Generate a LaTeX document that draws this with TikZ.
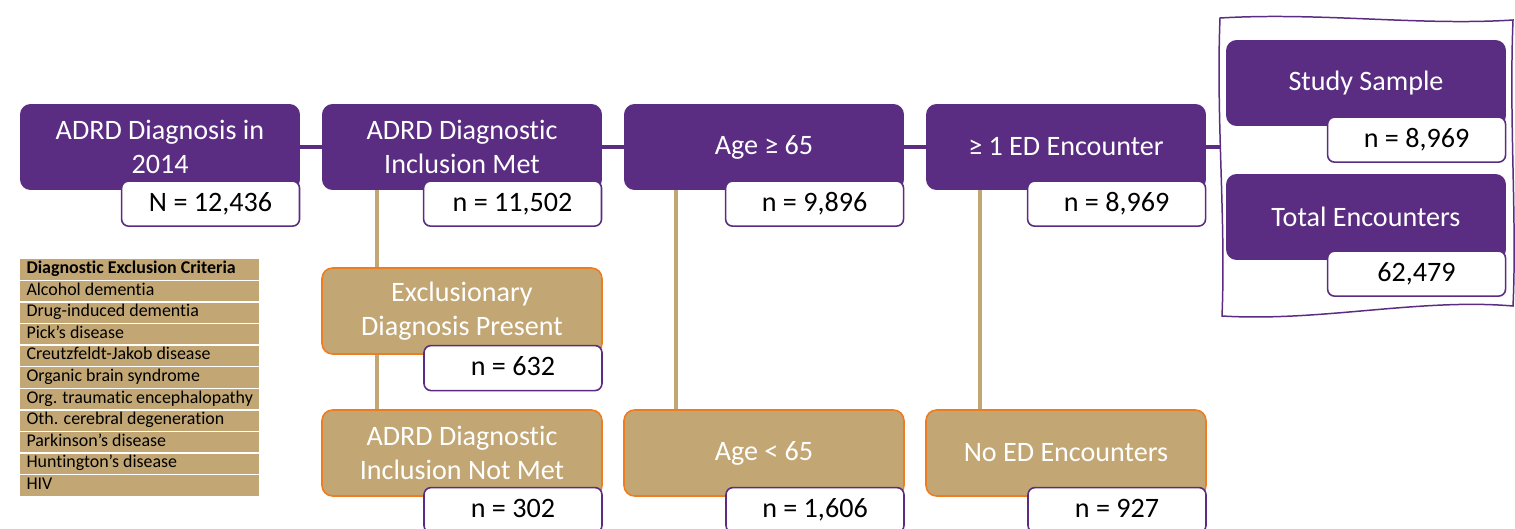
\documentclass[tikz,border=0pt]{standalone}
\usepackage[table]{xcolor}
\usepackage{fontspec}
\setmainfont{Carlito}[Ligatures=NoCommon]
\usepackage{tikz}
\usetikzlibrary{positioning,calc,backgrounds}
\definecolor{CohortPurple}{HTML}{5A2D82}
\definecolor{DropTan}{HTML}{C2A774}
\definecolor{DropOrange}{HTML}{EE7D22}

\tikzset{
  stagebox/.style={rectangle, rounded corners=6pt, fill=CohortPurple, text=white,
    minimum width=5.6cm, minimum height=1.72cm, inner sep=2pt, align=center,
    font=\fontsize{16}{19}\selectfont},
  dropbox/.style={stagebox, fill=DropTan, draw=DropOrange, line width=0.9pt},
  countbox/.style={rectangle, rounded corners=4pt, fill=white, draw=CohortPurple,
    line width=0.9pt, minimum width=3.56cm, minimum height=0.9cm, inner sep=1pt,
    text height=11pt, text depth=2.5pt,
    anchor=north east, font=\fontsize{16}{19}\selectfont},
  mainline/.style={draw=CohortPurple, line width=2.2pt},
  dropline/.style={draw=DropTan, line width=1.8pt},
}

\begin{document}
\begin{tikzpicture}[x=0.02cm, y=-0.02cm]
  \useasboundingbox (0,0) rectangle (1515,528);

  % cohort steps
  \node[stagebox] (diag) at (160,147) {ADRD Diagnosis in\\2014};
  \node[countbox] (diagN) at ([yshift=0.2cm]diag.south east) {N = 12,436};
  \node[stagebox] (incl) at (462,147) {ADRD Diagnostic\\Inclusion Met};
  \node[countbox] (inclN) at ([yshift=0.2cm]incl.south east) {n = 11,502};
  \node[stagebox] (age) at (764,147) {Age ≥ 65};
  \node[countbox] (ageN) at ([yshift=0.2cm]age.south east) {n = 9,896};
  \node[stagebox] (ed) at (1066,147) {≥ 1 ED Encounter};
  \node[countbox] (edN) at ([yshift=0.2cm]ed.south east) {n = 8,969};

  % excluded
  \node[dropbox] (excl) at (462,311) {Exclusionary\\Diagnosis Present};
  \node[countbox] (exclN) at ([yshift=0.2cm]excl.south east) {n = 632};
  \node[dropbox] (notmet) at (462,453) {ADRD Diagnostic\\Inclusion Not Met};
  \node[countbox] (notmetN) at ([yshift=0.2cm]notmet.south east) {n = 302};
  \node[dropbox] (young) at (764,453) {Age < 65};
  \node[countbox] (youngN) at ([yshift=0.2cm]young.south east) {n = 1,606};
  \node[dropbox] (noed) at (1066,453) {No ED Encounters};
  \node[countbox] (noedN) at ([yshift=0.2cm]noed.south east) {n = 927};

  % final sample
  \node[stagebox] (sample) at (1366,83) {Study Sample};
  \node[countbox] (sampleN) at ([yshift=0.2cm]sample.south east) {n = 8,969};
  \node[stagebox] (total) at (1366,217) {Total Encounters};
  \node[countbox] (totalN) at ([yshift=0.2cm]total.south east) {62,479};
  \draw[CohortPurple, line width=0.85pt]
    (1220,18) .. controls (1320,12) and (1420,26) .. (1513,20)
    .. controls (1509,120) and (1517,220) .. (1513,306)
    .. controls (1420,298) and (1320,322) .. (1222,316)
    .. controls (1226,220) and (1216,120) .. (1220,18) -- cycle;
  \coordinate (frameL) at (1220,147);

  \begin{scope}[on background layer]
    \draw[mainline] (diag.east) -- (incl.west);
    \draw[mainline] (incl.east) -- (age.west);
    \draw[mainline] (age.east) -- (ed.west);
    \draw[mainline] (ed.east) -- (frameL);
    \draw[dropline] ([xshift=-1.7cm]incl.south) -- ([xshift=-1.7cm]notmet.north);
    \draw[dropline] ([xshift=-1.76cm]age.south) -- ([xshift=-1.76cm]young.north);
    \draw[dropline] ([xshift=-1.72cm]ed.south) -- ([xshift=-1.72cm]noed.north);
  \end{scope}

  % criteria table
  \node[anchor=north west, inner sep=0pt] (criteria) at (20,259) {%
    \fontsize{10.2}{11.5}\selectfont
    \arrayrulecolor{white}\setlength{\arrayrulewidth}{0.8pt}\setlength{\tabcolsep}{3.5pt}%
    \begin{tabular}{p{4.53cm}}
      \rowcolor{DropTan}\textbf{Diagnostic Exclusion Criteria}\\\hline
      \rowcolor{DropTan}Alcohol dementia\\\hline
      \rowcolor{DropTan}Drug-induced dementia\\\hline
      \rowcolor{DropTan}Pick’s disease\\\hline
      \rowcolor{DropTan}Creutzfeldt-Jakob disease\\\hline
      \rowcolor{DropTan}Organic brain syndrome\\\hline
      \rowcolor{DropTan}Org. traumatic encephalopathy\\\hline
      \rowcolor{DropTan}Oth. cerebral degeneration\\\hline
      \rowcolor{DropTan}Parkinson’s disease\\\hline
      \rowcolor{DropTan}Huntington’s disease\\\hline
      \rowcolor{DropTan}HIV\\
    \end{tabular}};
\end{tikzpicture}
\end{document}
